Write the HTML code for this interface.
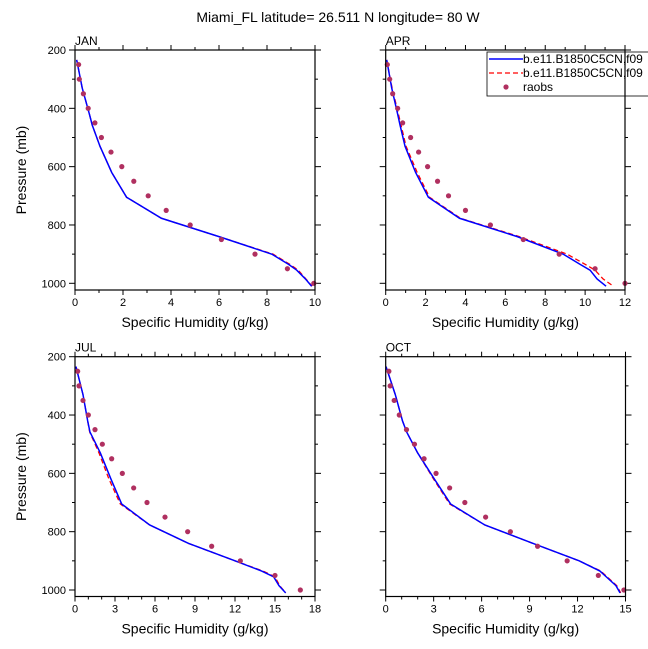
<!DOCTYPE html>
<html><head><meta charset="utf-8"><style>
body{margin:0;background:#fff;}
svg{display:block;font-family:"Liberation Sans",sans-serif;}
</style></head><body>
<svg id="c" width="648" height="649" viewBox="0 0 648 649">
<text x="338" y="22" text-anchor="middle" font-size="14">Miami_FL  latitude= 26.511 N longitude= 80 W</text>
</svg>
<script>
const months = ["JAN","APR","JUL","OCT"];
const xMaxes = [10,12,18,15];
const xStepMajor = [2,2,3,3];
const xStepMinor = [1,1,1,1];
const obsP = [250,300,350,400,450,500,550,600,650,700,750,800,850,900,950,1000];
const obsJAN = [0.15,0.18,0.35,0.55,0.83,1.1,1.5,1.95,2.45,3.05,3.8,4.8,6.1,7.5,8.85,9.95];
const obsAPR = [0.08,0.2,0.35,0.6,0.85,1.25,1.65,2.1,2.6,3.15,4.0,5.25,6.9,8.7,10.5,12.0];
const obsJUL = [0.2,0.3,0.6,1.0,1.5,2.05,2.75,3.55,4.4,5.4,6.75,8.45,10.25,12.4,15.0,16.9];
const obsOCT = [0.2,0.28,0.53,0.85,1.3,1.8,2.4,3.15,4.0,4.95,6.25,7.8,9.5,11.35,13.3,14.9];
const modP = [234,330,420,458,530,620,705,777,840,900,935,955,985,1010];
const blueJAN = [0.07,0.3,0.6,0.72,1.04,1.53,2.15,3.6,6.0,8.2,8.9,9.24,9.6,9.86];
const redJAN  = [0.07,0.3,0.6,0.72,1.04,1.53,2.15,3.6,6.0,8.25,8.95,9.3,9.62,9.88];
const blueAPR = [0.05,0.3,0.6,0.72,0.97,1.5,2.14,3.7,6.6,8.9,9.75,10.25,10.6,11.05];
const redAPR  = [0.05,0.32,0.64,0.77,1.02,1.58,2.2,3.75,6.7,9.1,10.0,10.5,10.9,11.42];
const blueJUL = [0.07,0.6,0.95,1.12,1.9,2.7,3.5,5.6,8.5,12.0,14.0,14.9,15.3,15.8];
const redJUL  = [0.07,0.6,0.95,1.1,1.8,2.55,3.4,5.6,8.5,12.0,14.1,15.0,15.35,15.8];
const blueOCT = [0.02,0.6,1.05,1.31,2.0,3.05,4.06,6.2,9.2,12.1,13.4,13.8,14.4,14.66];
const redOCT  = [0.02,0.6,1.05,1.31,2.0,3.0,4.0,6.2,9.2,12.1,13.45,13.85,14.45,14.7];
const obsAll=[obsJAN,obsAPR,obsJUL,obsOCT];
const blueAll=[blueJAN,blueAPR,blueJUL,blueOCT];
const redAll=[redJAN,redAPR,redJUL,redOCT];
const pTicks=[200,400,600,800,1000];

const svg=document.getElementById('c');
const NS="http://www.w3.org/2000/svg";
function mk(t,a,parent){const e=document.createElementNS(NS,t);for(const k in a)e.setAttribute(k,a[k]);(parent||svg).appendChild(e);return e;}
const boxes=[[75,315,50,290],[385.7,625,50,290],[75,315,356.7,596.5],[385.7,625.5,356.7,596.5]];
for(let i=0;i<4;i++){
  const [L,R,T,B]=boxes[i];
  const y1000=T+233.3;
  const X=v=>L+(R-L)*v/xMaxes[i];
  const Y=p=>T+(p-200)*(y1000-T)/800;
  const g=mk('g',{});
  
  
  const lab=mk('text',{x:L,y:T-5,'font-size':12},g);lab.textContent=months[i];
  
  
  // ticks
  for(let v=0;v<=xMaxes[i]+1e-9;v+=xStepMinor[i]){
    const maj=Math.abs(v/xStepMajor[i]-Math.round(v/xStepMajor[i]))<1e-6;
    const len=maj?5:3;
    mk('line',{x1:X(v),x2:X(v),y1:B,y2:B+len,stroke:'#000','stroke-width':1},g);
    mk('line',{x1:X(v),x2:X(v),y1:T,y2:T-len,stroke:'#000','stroke-width':1},g);
    if(maj){const t=mk('text',{x:X(v),y:B+16,'font-size':11,'text-anchor':'middle'},g);t.textContent=v;
      
      }
  }
  for(let p=200;p<=1000;p+=100){
    const maj=p%200===0;const len=maj?6:3;
    mk('line',{x1:L,x2:L-len,y1:Y(p),y2:Y(p),stroke:'#000','stroke-width':1},g);
    mk('line',{x1:R,x2:R+len,y1:Y(p),y2:Y(p),stroke:'#000','stroke-width':1},g);
  }
  if(i%2===0){
    pTicks.forEach(p=>{const t=mk('text',{x:L-9,y:Y(p)+4,'font-size':11,'text-anchor':'end'},g);t.textContent=p;
      
      });
    const yt=mk('text',{x:0,y:0,'font-size':14,'text-anchor':'middle',transform:`translate(${L-49},${(T+B)/2}) rotate(-90)`},g);
    yt.textContent='Pressure (mb)';
    
    
  }
  const xt=mk('text',{x:(L+R)/2,y:B+37,'font-size':14,'text-anchor':'middle'},g);
  xt.textContent='Specific Humidity (g/kg)';
  
  
  // series
  const red=mk('polyline',{points:redAll[i].map((v,k)=>X(v)+','+Y(modP[k])).join(' '),fill:'none',stroke:'#f00','stroke-width':1.3,'stroke-dasharray':'5,3'},g);
  
  
  const blue=mk('polyline',{points:blueAll[i].map((v,k)=>X(v)+','+Y(modP[k])).join(' '),fill:'none',stroke:'#00f','stroke-width':1.5},g);
  
  
  obsAll[i].forEach((v,k)=>{const c=mk('circle',{cx:X(v),cy:Y(obsP[k]),r:2.6,fill:'#b03060'},g);
    
    });
  mk('rect',{x:L,y:T,width:R-L,height:B-T,fill:'none',stroke:'#000','stroke-width':1.2},g);
}
// legend
const lg=mk('g',{});


mk('rect',{x:487,y:52,width:200,height:44,fill:'#fff',stroke:'#000','stroke-width':0.8},lg);
mk('line',{x1:489,x2:523,y1:59,y2:59,stroke:'#00f','stroke-width':1.5},lg);
mk('line',{x1:489,x2:523,y1:73,y2:73,stroke:'#f00','stroke-width':1.3,'stroke-dasharray':'5,3'},lg);
mk('circle',{cx:506,cy:87,r:2.6,fill:'#b03060'},lg);
[['b.e11.B1850C5CN,f09',63],['b.e11.B1850C5CN,f09',77],['raobs',91]].forEach(([s,y])=>{
  const t=mk('text',{x:523,y:y,'font-size':12},lg);t.textContent=s;
  
  });
mk('line',{x1:625,x2:625,y1:52,y2:96,stroke:'#000','stroke-width':1.2},lg);
</script>
</body></html>
